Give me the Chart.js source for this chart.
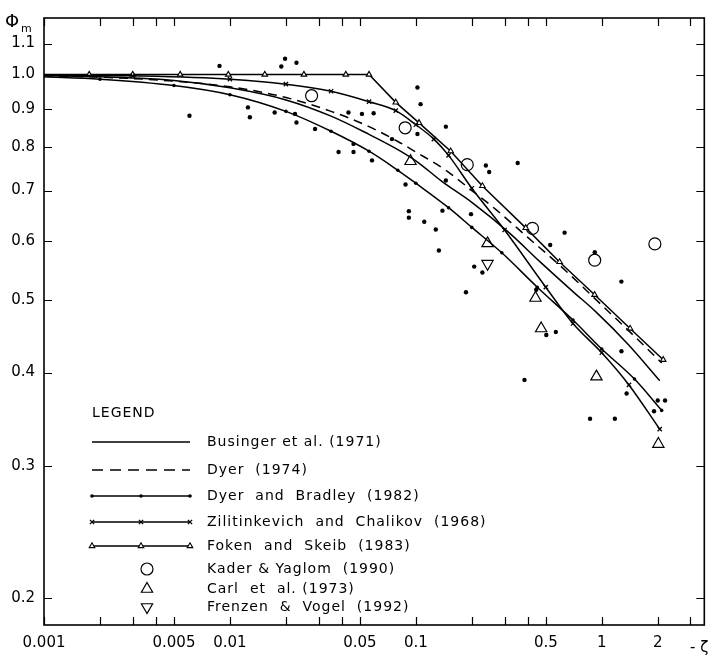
<!DOCTYPE html>
<html>
<head>
<meta charset="utf-8">
<script src="https://cdn.jsdelivr.net/npm/chart.js@4.4.1/dist/chart.umd.min.js"></script>
<style>
  html, body { margin: 0; padding: 0; background: #fff; }
  #wrap { width: 712px; height: 658px; }
</style>
</head>
<body>
<div id="wrap"><canvas id="phiChart" width="712" height="658"></canvas></div>
<script>
// Axis ticks
const xTickValues = [0.001, 0.002, 0.003, 0.004, 0.005, 0.01, 0.02, 0.03, 0.04, 0.05,
                     0.1, 0.2, 0.3, 0.4, 0.5, 1, 2, 3];
const xTickLabels = { 0.001: "0.001", 0.005: "0.005", 0.01: "0.01", 0.05: "0.05",
                      0.1: "0.1", 0.5: "0.5", 1: "1", 2: "2" };
const yTickValues = [0.2, 0.3, 0.4, 0.5, 0.6, 0.7, 0.8, 0.9, 1.0, 1.1];

// Businger et al. (1971) - solid
const busingerX = [0.001, 0.002, 0.005, 0.01, 0.02, 0.035, 0.056, 0.08, 0.1, 0.138, 0.2, 0.317, 0.463, 0.7, 0.93, 1.4, 2.05];
const busingerY = [0.997, 0.993, 0.982, 0.96, 0.925, 0.88, 0.832, 0.794, 0.767, 0.72, 0.675, 0.615, 0.563, 0.513, 0.482, 0.435, 0.39];

// Dyer (1974) - dashed
const dyerX = [0.001, 0.002, 0.005, 0.01, 0.02, 0.035, 0.056, 0.08, 0.1, 0.145, 0.2, 0.27, 0.4, 0.6, 1.0, 1.5, 2.1];
const dyerY = [0.996, 0.992, 0.98, 0.963, 0.932, 0.893, 0.852, 0.814, 0.788, 0.745, 0.70, 0.66, 0.606, 0.555, 0.492, 0.447, 0.412];

// Dyer and Bradley (1982) - line with dots
const dbX = [0.001, 0.002, 0.005, 0.01, 0.02, 0.035, 0.056, 0.08, 0.1, 0.15, 0.2, 0.29, 0.45, 0.7, 1.0, 1.5, 2.1];
const dbY = [0.993, 0.986, 0.967, 0.94, 0.893, 0.84, 0.79, 0.745, 0.716, 0.664, 0.625, 0.578, 0.52, 0.47, 0.43, 0.392, 0.356];

// Zilitinkevich and Chalikov (1968) - line with crosses
const zcX = [0.001, 0.003, 0.01, 0.02, 0.035, 0.056, 0.078, 0.1, 0.125, 0.15, 0.2, 0.3, 0.5, 0.7, 1.0, 1.4, 2.05];
const zcY = [0.999, 0.996, 0.986, 0.971, 0.95, 0.92, 0.895, 0.857, 0.82, 0.78, 0.705, 0.62, 0.52, 0.465, 0.425, 0.385, 0.336];

// Foken and Skeib (1983) - line with triangles
const fokenX = [0.001, 0.00175, 0.003, 0.0054, 0.0098, 0.0154, 0.025, 0.042, 0.056, 0.078, 0.104, 0.154, 0.228, 0.39, 0.593, 0.915, 1.42, 2.14];
const fokenY = [1, 1, 1, 1, 1, 1, 1, 1, 1, 0.918, 0.862, 0.79, 0.71, 0.624, 0.562, 0.508, 0.458, 0.416];

// measurements (black dots)
const obsX = [0.00606, 0.00879, 0.0198, 0.0189, 0.0228, 0.0125, 0.0128, 0.0174, 0.0224, 0.0228,
              0.0287, 0.0384, 0.0462, 0.0462, 0.0434, 0.0513, 0.0593, 0.0581, 0.102, 0.106,
              0.145, 0.102, 0.0744, 0.088, 0.0917, 0.0917, 0.111, 0.128, 0.139, 0.133,
              0.198, 0.238, 0.248, 0.353, 0.145, 0.186, 0.206, 0.228, 0.384, 0.503,
              0.566, 0.631, 0.528, 1.275, 1.276, 1.36, 0.865, 1.176, 2.0, 2.19,
              0.444, 0.917, 1.91];
const obsY = [0.881, 1.027, 1.05, 1.025, 1.037, 0.904, 0.877, 0.89, 0.886, 0.863,
              0.846, 0.788, 0.788, 0.808, 0.89, 0.886, 0.888, 0.768, 0.961, 0.913,
              0.852, 0.833, 0.82, 0.713, 0.657, 0.644, 0.636, 0.621, 0.658, 0.582,
              0.651, 0.756, 0.741, 0.762, 0.722, 0.512, 0.554, 0.544, 0.391, 0.449,
              0.453, 0.615, 0.592, 0.529, 0.427, 0.375, 0.347, 0.347, 0.367, 0.367,
              0.516, 0.579, 0.355];

// Kader & Yaglom (1990)
const kaderX = [0.0275, 0.0876, 0.189, 0.424, 0.916, 1.93];
const kaderY = [0.937, 0.849, 0.758, 0.623, 0.565, 0.594];
// Carl et al. (1973)
const carlX = [0.0936, 0.243, 0.44, 0.472, 0.936, 2.015];
const carlY = [0.766, 0.595, 0.503, 0.458, 0.395, 0.321];
// Frenzen & Vogel (1992)
const frenzenX = [0.243];
const frenzenY = [0.559];

const FONT = "'DejaVu Sans', sans-serif";

function pts(xs, ys) {
  return xs.map((x, i) => ({ x: x, y: ys[i] }));
}

// no marker on the very first point of a curve (it starts at the frame)
const skipFirst = (r) => (ctx) => (ctx.dataIndex === 0 ? 0 : r);

const datasets = [
  {
    label: "Businger et al. (1971)",
    data: pts(busingerX, busingerY),
    showLine: true, borderColor: "#000", borderWidth: 1.5,
    pointRadius: 0, cubicInterpolationMode: "monotone"
  },
  {
    label: "Dyer (1974)",
    data: pts(dyerX, dyerY),
    showLine: true, borderColor: "#000", borderWidth: 1.5, borderDash: [9, 6],
    pointRadius: 0, cubicInterpolationMode: "monotone"
  },
  {
    label: "Dyer and Bradley (1982)",
    data: pts(dbX, dbY),
    showLine: true, borderColor: "#000", borderWidth: 1.5,
    pointStyle: "circle", pointRadius: skipFirst(1.8),
    backgroundColor: "#000", pointBorderWidth: 0, cubicInterpolationMode: "monotone"
  },
  {
    label: "Zilitinkevich and Chalikov (1968)",
    data: pts(zcX, zcY),
    showLine: true, borderColor: "#000", borderWidth: 1.5,
    pointStyle: "crossRot", pointRadius: skipFirst(3), pointBorderWidth: 1.3,
    cubicInterpolationMode: "monotone"
  },
  {
    label: "Foken and Skeib (1983)",
    data: pts(fokenX, fokenY),
    showLine: true, borderColor: "#000", borderWidth: 1.5, tension: 0,
    pointStyle: "triangle", pointRadius: skipFirst(3.2), pointBorderWidth: 1.1,
    backgroundColor: "#fff"
  },
  {
    label: "data",
    data: pts(obsX, obsY),
    pointStyle: "circle", pointRadius: 2.2, backgroundColor: "#000",
    borderColor: "#000", pointBorderWidth: 0
  },
  {
    label: "Kader & Yaglom (1990)",
    data: pts(kaderX, kaderY),
    pointStyle: "circle", pointRadius: 6, backgroundColor: "rgba(0,0,0,0)",
    borderColor: "#000", pointBorderWidth: 1.2
  },
  {
    label: "Carl et al. (1973)",
    data: pts(carlX, carlY),
    pointStyle: "triangle", pointRadius: 6.5, backgroundColor: "rgba(0,0,0,0)",
    borderColor: "#000", pointBorderWidth: 1.2
  },
  {
    label: "Frenzen & Vogel (1992)",
    data: pts(frenzenX, frenzenY),
    pointStyle: "triangle", rotation: 180, pointRadius: 6.5, backgroundColor: "rgba(0,0,0,0)",
    borderColor: "#000", pointBorderWidth: 1.2
  }
];

// legend rows (drawn inside the plot, bottom-left)
const legendRows = [
  { text: "Businger et al. (1971)", line: true, dash: [], marker: null },
  { text: "Dyer  (1974)", line: true, dash: [11, 7], marker: null },
  { text: "Dyer  and  Bradley  (1982)", line: true, dash: [], marker: { pointStyle: "circle", radius: 1.8, borderWidth: 0, fill: "#000" } },
  { text: "Zilitinkevich  and  Chalikov  (1968)", line: true, dash: [], marker: { pointStyle: "crossRot", radius: 3, borderWidth: 1.3, fill: "#000" } },
  { text: "Foken  and  Skeib  (1983)", line: true, dash: [], marker: { pointStyle: "triangle", radius: 3.2, borderWidth: 1.1, fill: "#fff" } },
  { text: "Kader & Yaglom  (1990)", line: false, marker: { pointStyle: "circle", radius: 6, borderWidth: 1.2, fill: null } },
  { text: "Carl  et  al. (1973)", line: false, marker: { pointStyle: "triangle", radius: 6.5, borderWidth: 1.2, fill: null } },
  { text: "Frenzen  &  Vogel  (1992)", line: false, marker: { pointStyle: "triangle", radius: 6.5, borderWidth: 1.2, fill: null, rotation: 180 } }
];
const legendRowY = [442, 470, 496, 522, 546, 569, 589, 607];

const decorPlugin = {
  id: "decor",
  afterDraw(chart) {
    const { ctx, chartArea: a, scales: { x, y } } = chart;
    ctx.save();

    // frame and inward ticks on all four sides
    ctx.strokeStyle = "#000";
    ctx.lineWidth = 1.6;
    ctx.strokeRect(a.left, a.top, a.right - a.left, a.bottom - a.top);
    ctx.lineWidth = 1.2;
    ctx.beginPath();
    xTickValues.forEach((v) => {
      const px = Math.round(x.getPixelForValue(v)) + 0.5;
      ctx.moveTo(px, a.bottom); ctx.lineTo(px, a.bottom - 8);
      ctx.moveTo(px, a.top); ctx.lineTo(px, a.top + 8);
    });
    yTickValues.forEach((v) => {
      const py = Math.round(y.getPixelForValue(v)) + 0.5;
      ctx.moveTo(a.left, py); ctx.lineTo(a.left + 8, py);
      ctx.moveTo(a.right, py); ctx.lineTo(a.right - 8, py);
    });
    ctx.stroke();

    // axis names
    ctx.fillStyle = "#000";
    ctx.textBaseline = "alphabetic";
    ctx.textAlign = "left";
    ctx.font = "18px " + FONT;
    ctx.fillText("Φ", 5, 27);
    ctx.font = "11px " + FONT;
    ctx.fillText("m", 21, 32);
    ctx.font = "15px " + FONT;
    ctx.fillText("- ζ", 690, 652);

    // legend
    ctx.font = "14px " + FONT;
    ctx.letterSpacing = "1px";
    ctx.textBaseline = "middle";
    ctx.fillText("LEGEND", 92, 413);
    const x0 = 92, x1 = 190, xm = 141;
    legendRows.forEach((row, i) => {
      const ly = legendRowY[i];
      if (row.line) {
        ctx.setLineDash(row.dash);
        ctx.lineWidth = 1.5;
        ctx.beginPath();
        ctx.moveTo(x0, ly); ctx.lineTo(x1, ly);
        ctx.stroke();
        ctx.setLineDash([]);
        if (row.marker) {
          [x0, xm, x1].forEach((mx) => drawMarker(ctx, row.marker, mx, ly));
        }
      } else {
        drawMarker(ctx, row.marker, 147, ly);
      }
      ctx.fillStyle = "#000";
      ctx.fillText(row.text, 207, ly);
    });
    ctx.restore();
  }
};

function drawMarker(ctx, m, mx, my) {
  ctx.save();
  ctx.setLineDash([]);
  ctx.strokeStyle = "#000";
  ctx.fillStyle = m.fill || "rgba(0,0,0,0)";
  ctx.lineWidth = m.borderWidth;
  Chart.helpers.drawPoint(ctx, {
    pointStyle: m.pointStyle, radius: m.radius, rotation: m.rotation || 0,
    borderWidth: m.borderWidth
  }, mx, my);
  ctx.restore();
}

new Chart(document.getElementById("phiChart"), {
  type: "scatter",
  data: { datasets: datasets },
  plugins: [decorPlugin],
  options: {
    responsive: false,
    animation: false,
    devicePixelRatio: 1,
    layout: { padding: { top: 15, right: 4, left: 0, bottom: 0 } },
    plugins: {
      legend: { display: false },
      tooltip: { enabled: false }
    },
    scales: {
      x: {
        type: "logarithmic",
        min: 0.001,
        max: 3.56,
        grid: { display: false, drawTicks: false },
        border: { display: false },
        afterBuildTicks: (s) => { s.ticks = xTickValues.map((v) => ({ value: v })); },
        afterFit: (s) => { s.height = 33; },
        ticks: {
          autoSkip: false,
          maxRotation: 0,
          padding: 9,
          color: "#000",
          font: { family: FONT, size: 15 },
          callback: (v) => xTickLabels[v] || ""
        }
      },
      y: {
        type: "logarithmic",
        min: 0.184,
        max: 1.19,
        grid: { display: false, drawTicks: false },
        border: { display: false },
        afterBuildTicks: (s) => { s.ticks = yTickValues.map((v) => ({ value: v })); },
        afterFit: (s) => { s.width = 44; },
        ticks: {
          autoSkip: false,
          padding: 9,
          color: "#000",
          font: { family: FONT, size: 15 },
          callback: (v) => v.toFixed(1)
        }
      }
    }
  }
});
</script>
</body>
</html>
